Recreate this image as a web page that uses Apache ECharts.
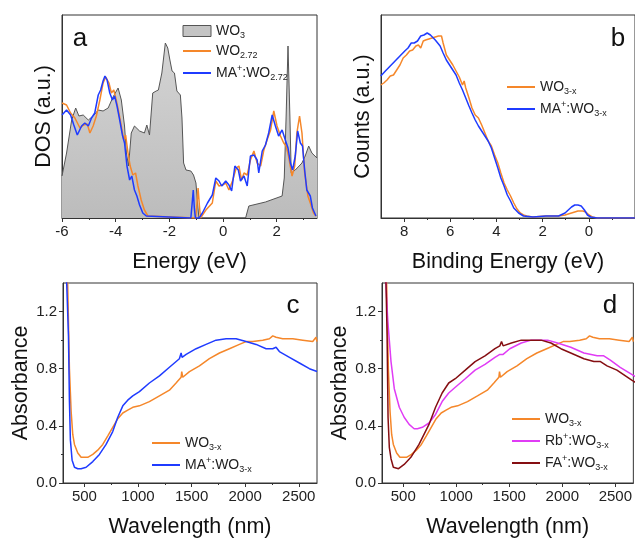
<!DOCTYPE html>
<html><head><meta charset="utf-8">
<script src="https://cdn.jsdelivr.net/npm/echarts/dist/echarts.min.js"></script>
<style>html,body{margin:0;padding:0;background:#fff}#c{width:635px;height:539px}</style>
</head><body><div id="c"></div>
<script>
// ---------- Data ----------
// Panel a: DOS (energy eV, a.u.)
const dosWO3 = [[-6.00,42],[-5.83,65],[-5.64,98],[-5.49,110],[-5.37,102],[-5.21,103],[-5.02,98],[-4.84,102],[-4.65,108],[-4.47,107],[-4.28,110],[-4.10,121],[-3.91,130],[-3.79,118],[-3.67,92],[-3.60,65],[-3.52,52],[-3.42,85],[-3.30,92],[-3.11,87],[-2.93,85],[-2.84,93],[-2.74,83],[-2.62,125],[-2.49,127],[-2.41,128],[-2.28,145],[-2.15,175],[-2.06,170],[-1.98,158],[-1.90,147],[-1.81,145],[-1.72,127],[-1.59,123],[-1.53,100],[-1.47,55],[-1.38,48],[-1.20,47],[-1.10,43],[-1.01,35],[-0.95,15],[-0.90,0],[0.84,0],[0.96,12],[1.58,16],[2.20,22],[2.28,40],[2.35,102],[2.42,172],[2.49,102],[2.54,45],[2.69,48],[2.94,55],[3.06,62],[3.19,72],[3.31,65],[3.50,60]];
const dosWO272 = [[-6.00,115],[-5.83,113],[-5.68,105],[-5.52,100],[-5.33,90],[-5.19,93],[-5.06,94],[-4.96,85],[-4.84,92],[-4.72,102],[-4.59,118],[-4.47,135],[-4.37,141],[-4.25,135],[-4.16,125],[-4.07,128],[-3.98,118],[-3.88,105],[-3.79,92],[-3.70,78],[-3.63,83],[-3.54,65],[-3.46,52],[-3.36,43],[-3.26,45],[-3.17,32],[-3.05,18],[-2.93,8],[-2.80,2],[-2.74,0],[-1.02,0],[-0.97,15],[-0.93,30],[-0.88,12],[-0.84,0],[-0.77,2],[-0.64,8],[-0.40,15],[-0.27,37],[-0.15,32],[-0.02,33],[0.10,35],[0.22,28],[0.35,37],[0.49,50],[0.59,52],[0.69,38],[0.78,45],[0.90,43],[1.02,58],[1.15,67],[1.27,55],[1.40,52],[1.52,68],[1.64,78],[1.77,88],[1.89,107],[2.01,92],[2.14,82],[2.26,75],[2.35,72],[2.44,62],[2.57,42],[2.67,52],[2.75,85],[2.85,102],[2.94,85],[3.04,45],[3.16,22],[3.25,15],[3.37,5],[3.46,2]];
const dosMAWO272 = [[-6.00,103],[-5.83,108],[-5.68,103],[-5.56,93],[-5.43,83],[-5.27,92],[-5.15,95],[-5.02,92],[-4.90,100],[-4.78,105],[-4.65,123],[-4.56,128],[-4.47,137],[-4.40,142],[-4.32,138],[-4.22,125],[-4.12,118],[-4.04,122],[-3.95,112],[-3.85,98],[-3.75,83],[-3.67,75],[-3.58,52],[-3.48,38],[-3.40,42],[-3.30,28],[-3.21,22],[-3.11,13],[-2.99,5],[-2.86,2],[-2.80,0],[-1.20,0],[-1.15,15],[-1.11,28],[-1.07,10],[-1.03,0],[-0.89,0],[-0.77,5],[-0.58,15],[-0.40,23],[-0.27,40],[-0.15,37],[-0.05,32],[0.10,37],[0.22,33],[0.32,27],[0.44,52],[0.57,48],[0.65,37],[0.78,42],[0.90,32],[1.02,62],[1.15,63],[1.27,58],[1.33,45],[1.46,67],[1.58,73],[1.70,85],[1.83,103],[1.95,92],[2.07,82],[2.20,88],[2.32,78],[2.42,70],[2.51,55],[2.59,48],[2.69,62],[2.78,87],[2.88,75],[2.96,72],[3.04,48],[3.12,28],[3.25,22],[3.33,10],[3.46,2]];

// Panel b: valence band spectra (binding energy eV, counts a.u.)
const vbWO3x = [[9.01,133],[8.88,135],[8.74,138],[8.60,142],[8.46,143],[8.32,148],[8.18,153],[8.04,160],[7.90,163],[7.76,167],[7.63,168],[7.49,172],[7.38,173],[7.28,170],[7.17,177],[7.07,178],[6.93,179],[6.79,180],[6.65,181],[6.51,182],[6.44,182],[6.38,182],[6.31,175],[6.17,163],[6.03,158],[5.89,153],[5.75,147],[5.61,141],[5.47,133],[5.40,137],[5.33,130],[5.19,120],[5.06,110],[4.92,103],[4.85,102],[4.78,100],[4.64,93],[4.50,85],[4.36,77],[4.22,72],[4.08,63],[3.94,55],[3.81,45],[3.67,35],[3.53,28],[3.39,22],[3.25,15],[3.11,9],[2.97,5],[2.83,3],[2.69,2],[2.42,1],[1.86,2],[1.31,2],[1.03,3],[0.75,5],[0.47,7],[0.26,7],[0.13,6],[-0.01,3],[-0.15,1],[-0.36,0],[-0.92,0],[-2.0,0]];
const vbMAWO3x = [[9.01,142],[8.81,147],[8.60,152],[8.39,157],[8.18,162],[7.97,167],[7.83,170],[7.69,175],[7.56,175],[7.42,177],[7.28,182],[7.14,183],[7.00,185],[6.86,183],[6.65,178],[6.44,172],[6.31,165],[6.17,158],[6.03,153],[5.89,148],[5.75,143],[5.61,135],[5.47,128],[5.33,120],[5.19,112],[5.06,105],[4.92,98],[4.78,92],[4.64,87],[4.50,82],[4.36,77],[4.22,70],[4.08,60],[3.94,50],[3.81,40],[3.67,32],[3.53,23],[3.39,17],[3.25,10],[3.04,5],[2.83,2],[2.42,1],[1.86,2],[1.31,2],[1.03,5],[0.89,8],[0.75,11],[0.61,13],[0.47,13],[0.33,12],[0.19,8],[0.06,3],[-0.08,1],[-0.36,0],[-2.0,0]];

// Panels c, d: absorbance (wavelength nm, absorbance)
const absWO3x = [[330,1.5],[344,1.39],[360,0.80],[376,0.50],[391,0.34],[407,0.27],[438,0.21],[469,0.18],[500,0.18],[531,0.18],[578,0.20],[624,0.23],[671,0.27],[718,0.33],[764,0.39],[811,0.45],[858,0.49],[904,0.51],[951,0.53],[1013,0.54],[1106,0.57],[1200,0.61],[1293,0.65],[1355,0.70],[1402,0.74],[1408,0.78],[1417,0.74],[1480,0.78],[1573,0.82],[1666,0.87],[1760,0.91],[1853,0.94],[1946,0.97],[2008,0.99],[2071,0.99],[2164,1.00],[2226,1.01],[2257,1.03],[2288,1.02],[2350,1.01],[2444,1.01],[2537,1.00],[2630,0.99],[2661,1.02],[2670,0.99]];
const absMAWO3x = [[330,1.5],[351,1.03],[360,0.57],[369,0.30],[385,0.16],[407,0.11],[438,0.10],[469,0.10],[516,0.11],[578,0.15],[640,0.20],[702,0.27],[764,0.36],[811,0.46],[858,0.54],[904,0.58],[951,0.61],[1013,0.64],[1106,0.70],[1200,0.75],[1293,0.81],[1386,0.87],[1402,0.91],[1411,0.88],[1449,0.90],[1542,0.94],[1635,0.97],[1728,1.00],[1822,1.01],[1915,1.01],[2008,0.99],[2102,0.97],[2195,0.94],[2257,0.94],[2288,0.95],[2319,0.92],[2413,0.88],[2506,0.84],[2599,0.80],[2670,0.78]];
const absRbWO3x = [[330,1.5],[338,1.39],[354,1.14],[385,0.85],[416,0.66],[463,0.53],[509,0.46],[556,0.41],[603,0.38],[634,0.38],[680,0.39],[743,0.42],[805,0.48],[867,0.57],[929,0.63],[991,0.67],[1085,0.73],[1178,0.79],[1271,0.83],[1365,0.88],[1411,0.90],[1442,0.90],[1505,0.94],[1613,0.98],[1707,1.00],[1769,1.00],[1862,1.00],[1955,0.98],[2080,0.95],[2204,0.91],[2329,0.89],[2391,0.89],[2453,0.86],[2546,0.81],[2655,0.76],[2700,0.74]];
const absFAWO3x = [[330,1.5],[338,1.39],[348,1.03],[357,0.46],[369,0.25],[385,0.17],[407,0.11],[425,0.10],[456,0.10],[509,0.13],[572,0.18],[649,0.27],[743,0.41],[805,0.53],[867,0.63],[929,0.70],[991,0.73],[1085,0.79],[1178,0.85],[1271,0.89],[1365,0.94],[1411,0.96],[1427,0.99],[1442,0.96],[1520,0.98],[1613,1.00],[1707,1.00],[1800,1.00],[1893,0.98],[1987,0.94],[2080,0.91],[2204,0.87],[2298,0.85],[2360,0.85],[2422,0.82],[2515,0.79],[2655,0.72],[2700,0.70]];

// Tick labels
const ticksA = [-6,-4,-2,0,2];
const minorA = [-5,-3,-1,1,3];
const ticksB = [8,6,4,2,0];
const minorB = [7,5,3,1,-1];
const ticksWl = [500,1000,1500,2000,2500];
const minorWl = [750,1250,1750,2250];
const ticksAbs = [0,0.4,0.8,1.2];
const minorAbs = [0.2,0.6,1.0];

// Legend labels (rich text with sub/superscripts)
const legendLabels = {
  'WO3': '{n|WO}{s|3}',
  'WO2.72': '{n|WO}{s|2.72}',
  'MA+:WO2.72': '{n|MA}{p|+}{n|:WO}{s|2.72}',
  'WO3-x': '{n|WO}{s|3-x}',
  'MA+:WO3-x': '{n|MA}{p|+}{n|:WO}{s|3-x}',
  'Rb+:WO3-x': '{n|Rb}{p|+}{n|:WO}{s|3-x}',
  'FA+:WO3-x': '{n|FA}{p|+}{n|:WO}{s|3-x}'
};

// ---------- Styles ----------
const FONT = 'Liberation Sans, Arial, sans-serif';
const C_OR = '#F5872A', C_BL = '#1F3BFF', C_MG = '#E03CF5', C_DR = '#850E12';
const axisLine = {show:true, onZero:false, lineStyle:{color:'#333', width:1}};
const lbl = {color:'#222', fontSize:15, fontFamily:FONT, margin:6};
const nameStyle = {color:'#111', fontSize:21.5, fontFamily:FONT};
const rich = {
  n:{fontSize:14, fontFamily:FONT, color:'#222', lineHeight:18},
  s:{fontSize:9, fontFamily:FONT, color:'#222', lineHeight:9, verticalAlign:'bottom'},
  p:{fontSize:9, fontFamily:FONT, color:'#222', lineHeight:9, verticalAlign:'top'}
};

function xMajor(grid, min, max, ticks, name, inverse){
  return {type:'value', gridIndex:grid, min:min, max:max, inverse:!!inverse, position:'bottom',
    name:name, nameLocation:'middle', nameGap:33, nameTextStyle:nameStyle,
    axisLine:axisLine, splitLine:{show:false},
    axisTick:{show:true, length:4, lineStyle:{color:'#333'}, customValues:ticks},
    axisLabel:Object.assign({customValues:ticks, formatter:v=>String(v)}, lbl)};
}
function xMinor(grid, min, max, ticks, inverse){
  return {type:'value', gridIndex:grid, min:min, max:max, inverse:!!inverse, position:'bottom',
    axisLine:{show:false, onZero:false}, splitLine:{show:false}, axisLabel:{show:false},
    axisTick:{show:true, length:2, lineStyle:{color:'#333'}, customValues:ticks}};
}
function yPlain(grid, name){
  return {type:'value', gridIndex:grid, min:0, max:203, name:name, nameLocation:'middle', nameGap:7,
    nameTextStyle:nameStyle, axisLine:axisLine, axisTick:{show:false}, axisLabel:{show:false}, splitLine:{show:false}};
}
function yAbs(grid){
  return {type:'value', gridIndex:grid, min:0, max:1.4, name:'Absorbance', nameLocation:'middle', nameGap:30,
    nameTextStyle:nameStyle, axisLine:axisLine, splitLine:{show:false},
    axisTick:{show:true, length:4, lineStyle:{color:'#333'}, customValues:ticksAbs},
    axisLabel:Object.assign({customValues:ticksAbs, formatter:v=>v.toFixed(1)}, lbl)};
}
function yAbsMinor(grid){
  return {type:'value', gridIndex:grid, min:0, max:1.4, position:'left',
    axisLine:{show:false, onZero:false}, splitLine:{show:false}, axisLabel:{show:false},
    axisTick:{show:true, length:2, lineStyle:{color:'#333'}, customValues:minorAbs}};
}
function line(name, data, xi, yi, color, w){
  return {type:'line', name:name, data:data, xAxisIndex:xi, yAxisIndex:yi, symbol:'none', showSymbol:false,
    lineStyle:{color:color, width:w||1.5}, itemStyle:{color:color}, clip:true, z:3};
}
function legend(left, top, names){
  return {orient:'vertical', left:left, top:top, itemWidth:28, itemHeight:11, itemGap:4,
    padding:0, selectedMode:false, data:names, itemStyle:{opacity:0},
    formatter:n=>legendLabels[n.slice(2)], textStyle:{rich:rich, fontFamily:FONT, fontSize:14, color:'#222'}};
}
const gridBox = {show:true, borderColor:'#333', borderWidth:1, backgroundColor:'transparent', containLabel:false};

const option = {
  animation:false,
  backgroundColor:'#fff',
  grid:[
    Object.assign({left:62, top:15, width:255, height:203}, gridBox),
    Object.assign({left:381, top:15, width:264, height:203}, gridBox),
    Object.assign({left:63, top:283, width:254, height:203}, gridBox),
    Object.assign({left:382, top:283, width:254, height:203}, gridBox)
  ],
  xAxis:[
    xMajor(0,-6,3.5,ticksA,'Energy (eV)'),
    xMinor(0,-6,3.5,minorA),
    xMajor(1,-2,9,ticksB,'Binding Energy (eV)',true),
    xMinor(1,-2,9,minorB,true),
    xMajor(2,300,2670,ticksWl,'Wavelength (nm)'),
    xMinor(2,300,2670,minorWl),
    xMajor(3,300,2670,ticksWl,'Wavelength (nm)'),
    xMinor(3,300,2670,minorWl)
  ],
  yAxis:[
    yPlain(0,'DOS (a.u.)'),
    yPlain(1,'Counts (a.u.)'),
    yAbs(2), yAbsMinor(2),
    yAbs(3), yAbsMinor(3)
  ],
  legend:[
    legend(182, 24, [{name:'a/WO3', icon:'rect', itemStyle:{opacity:1, color:'#c4c4c4', borderColor:'#555', borderWidth:1}}, 'a/WO2.72', 'a/MA+:WO2.72']),
    legend(506, 80, ['b/WO3-x','b/MA+:WO3-x']),
    legend(151, 436, ['c/WO3-x','c/MA+:WO3-x']),
    legend(511, 412, ['d/WO3-x','d/Rb+:WO3-x','d/FA+:WO3-x'])
  ],
  series:[
    Object.assign(line('a/WO3', dosWO3, 0, 0, '#555', 1), {z:2,
      areaStyle:{opacity:1, color:new echarts.graphic.LinearGradient(0,0,0,1,[{offset:0,color:'#d4d4d4'},{offset:1,color:'#bcbcbc'}])}}),
    line('a/WO2.72', dosWO272, 0, 0, C_OR),
    line('a/MA+:WO2.72', dosMAWO272, 0, 0, C_BL),
    line('b/WO3-x', vbWO3x, 2, 1, C_OR),
    line('b/MA+:WO3-x', vbMAWO3x, 2, 1, C_BL),
    line('c/WO3-x', absWO3x, 4, 2, C_OR),
    line('c/MA+:WO3-x', absMAWO3x, 4, 2, C_BL),
    line('d/WO3-x', absWO3x, 6, 4, C_OR),
    line('d/Rb+:WO3-x', absRbWO3x, 6, 4, C_MG),
    line('d/FA+:WO3-x', absFAWO3x, 6, 4, C_DR)
  ],
  graphic:[
    {type:'text', x:80, y:39, z:10, style:{text:'a', font:'26px '+FONT, fill:'#111', align:'center', verticalAlign:'middle'}},
    {type:'text', x:618, y:39, z:10, style:{text:'b', font:'26px '+FONT, fill:'#111', align:'center', verticalAlign:'middle'}},
    {type:'text', x:293, y:306, z:10, style:{text:'c', font:'26px '+FONT, fill:'#111', align:'center', verticalAlign:'middle'}},
    {type:'text', x:610, y:306, z:10, style:{text:'d', font:'26px '+FONT, fill:'#111', align:'center', verticalAlign:'middle'}}
  ]
};
const chart = echarts.init(document.getElementById('c'), null, {renderer:'canvas'});
chart.setOption(option);
</script>
</body></html>
